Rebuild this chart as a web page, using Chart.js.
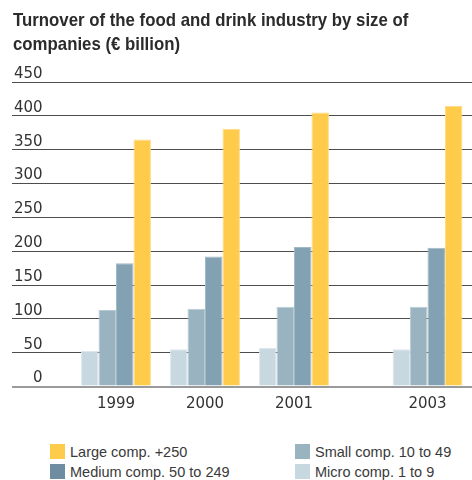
<!DOCTYPE html>
<html lang="en">
<head>
<meta charset="UTF-8">
<title>Turnover of the food and drink industry by size of companies</title>
<script src="https://cdn.jsdelivr.net/npm/chart.js@4"></script>
<style>
  body { margin: 0; background: #fff; color: #333; font-family: 'DejaVu Sans', sans-serif; }
  .wrap { position: relative; width: 472px; height: 480px; overflow: hidden; }
  .title { position: absolute; left: 13px; top: 8px; width: 540px; margin: 0; color: #2b2b2b;
           font: bold 19px/24px 'Liberation Sans', Arial, sans-serif; transform: scaleX(0.884); transform-origin: left top; }
  .chart-box { position: absolute; left: 0; top: 0; width: 472px; height: 430px; }
  .legend { position: absolute; left: 50px; top: 444px; display: grid; grid-template-columns: 245px 180px; row-gap: 5px;
            font: 14.5px 'Liberation Sans', Arial, sans-serif; color: #3a3a3a; }
  .legend span { display: flex; align-items: center; height: 15px; white-space: nowrap; }
  .legend i { display: inline-block; width: 15px; height: 15px; margin-right: 5px; }
</style>
</head>
<body>
<div class="wrap">
  <div class="chart-box"><canvas id="turnover"></canvas></div>
  <h1 class="title">Turnover of the food and drink industry by size of<br>companies (€ billion)</h1>
  <div class="legend" id="legend"></div>
</div>
<script>
// turnover in € billion
const years  = ['1999', '2000', '2001', '2003'];
const large  = [365, 381, 405, 415];
const medium = [182, 192, 206, 205];
const small  = [113, 115, 118, 118];
const micro  = [53, 55, 57, 55];
const yTicks = [0, 50, 100, 150, 200, 250, 300, 350, 400, 450];

// x axis in half-year slots: the source leaves only a narrow gap for the missing 2002
const slots = ['1999', '', '2000', '', '2001', '', '', '2003', ''];
const onSlots = vals => slots.map(s => s === '' ? null : vals[years.indexOf(s)]);

const series = [
  { label: 'Micro comp. 1 to 9',     data: micro,  fill: '#c8d8e0', edge: '#dce6eb', key: '#c8d8e0' },
  { label: 'Small comp. 10 to 49',   data: small,  fill: '#9ab3c1', edge: '#b8cad4', key: '#9ab3c1' },
  { label: 'Medium comp. 50 to 249', data: medium, fill: '#82a1b2', edge: '#a2b9c6', key: '#6e8da0' },
  { label: 'Large comp. +250',       data: large,  fill: '#ffcb4a', edge: '#ffdc88', key: '#ffcb4a' }
];

new Chart(document.getElementById('turnover'), {
  type: 'bar',
  data: {
    labels: slots,
    datasets: series.map(s => ({
      label: s.label,
      data: onSlots(s.data),
      backgroundColor: s.fill,
      borderColor: s.edge,
      borderWidth: 1,
      categoryPercentage: 1.57,
      barPercentage: 1,
      clip: false
    }))
  },
  options: {
    responsive: true,
    maintainAspectRatio: false,
    animation: false,
    layout: { padding: { left: 12, right: 0, top: 82, bottom: 7.5 } },
    plugins: {
      legend: { display: false },
      tooltip: { enabled: false }
    },
    scales: {
      x: {
        offset: false,
        grid: { display: false, drawTicks: false },
        border: { display: false },
        ticks: {
          autoSkip: false, maxRotation: 0, padding: 0,
          color: '#333',
          font: { family: "'DejaVu Sans', sans-serif", size: 15, lineHeight: 2.4 }
        }
      },
      y: {
        min: yTicks[0],
        max: yTicks[yTicks.length - 1],
        border: { display: false },
        grid: {
          color: c => c.tick && c.tick.value === 0 ? '#9a9a9a' : '#4d4d4d',
          lineWidth: c => c.tick && c.tick.value === 0 ? 2 : 1,
          tickLength: 104
        },
        afterBuildTicks: scale => { scale.ticks = yTicks.map(v => ({ value: v })); },
        afterFit: scale => { scale.width = 104; },
        ticks: {
          mirror: true,
          crossAlign: 'far',
          padding: -102,
          labelOffset: -8,
          color: '#333',
          font: { family: "'DejaVu Sans', sans-serif", size: 15 }
        }
      }
    }
  }
});

// legend laid out in two columns like the original
const legendOrder = ['Large comp. +250', 'Small comp. 10 to 49', 'Medium comp. 50 to 249', 'Micro comp. 1 to 9'];
document.getElementById('legend').innerHTML = legendOrder.map(name => {
  const s = series.find(x => x.label === name);
  return `<span><i style="background:${s.key}"></i>${s.label}</span>`;
}).join('');
</script>
</body>
</html>
